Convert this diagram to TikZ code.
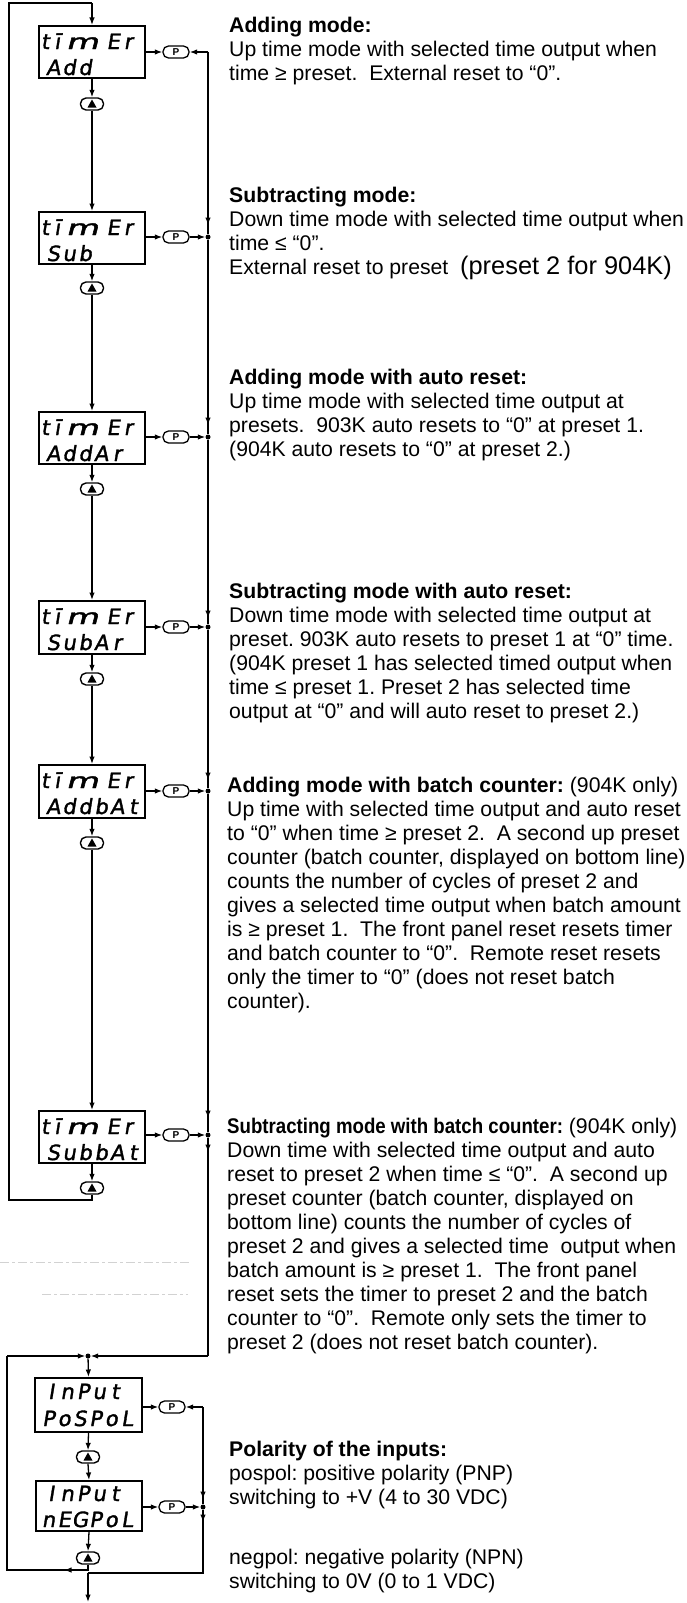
\documentclass[tikz,border=0pt]{standalone}
\usepackage{fontspec}
\usepackage{graphicx}
\setmainfont{Liberation Sans}
\newfontfamily\segfont[FakeSlant=0.16,FakeBold=1.6]{DejaVu Sans}
\usetikzlibrary{arrows.meta,calc}
\frenchspacing
\newcommand\segc[2]{\makebox[#1pt][c]{#2}}
\newcommand\segl[2]{\foreach \ch in {#2}{\makebox[#1pt][c]{\ch}}}
\newcommand\segtimer{\segc{14}{t}\segc{10}{ī}\segc{40}{\scalebox{1.6}[1]{m}}\segc{22}{E}\segc{8}{r}}
\newcommand\blk[1]{\vtop{\baselineskip=24pt\lineskiplimit=-30pt\lineskip=0pt#1}}
\tikzset{
 ln/.style={line width=1.3pt},
 arr/.style={-{Latex[length=7.5pt,width=5.5pt]}},
 box/.style={draw, line width=2pt, minimum width=106pt, minimum height=52pt, inner sep=0pt},
 pn/.style={draw, line width=1.3pt, rounded corners=5.5pt, minimum width=26pt, minimum height=12pt, inner sep=0pt, font=\fontsize{10}{10}\selectfont\bfseries},
 un/.style={draw, line width=1.4pt, fill=white, rounded corners=5.5pt, minimum width=23pt, minimum height=12pt, inner sep=0pt},
 dot/.style={circle, fill, inner sep=0pt, minimum size=5pt},
 seg/.style={anchor=base west, inner sep=0pt, font=\segfont\fontsize{21}{21}\selectfont},
 body/.style={anchor=base west, inner sep=0pt, font=\fontsize{21.2}{24}\selectfont},
 scan/.style={gray!35, line width=0.8pt, dash pattern=on 9pt off 3pt on 3pt off 3pt},
}
\begin{document}
\begin{tikzpicture}[x=1pt,y=-1pt]
\useasboundingbox (0,0) rectangle (687,1603);

% ---------- display boxes ----------
\node[box] (b1) at (92,52) {};
\node[box] (b2) at (92,238) {};
\node[box] (b3) at (92,438) {};
\node[box, minimum height=53pt] (b4) at (92,627.5) {};
\node[box, minimum height=53pt] (b5) at (92,791.5) {};
\node[box] (b6) at (92,1137) {};
\node[box, minimum width=107pt, minimum height=54pt] (b7) at (88.5,1405) {};
\node[box, minimum width=106pt, minimum height=50pt] (b8) at (89,1506) {};

% ---------- display texts ----------
\node[seg] (s1a) at ($(b1.north west)+(0,24)$) {\segtimer};
\node[seg] (s1b) at ($(b1.north west)+(7,50)$) {\segl{16}{A,d,d}};
\node[seg] (s2a) at ($(b2.north west)+(0,24)$) {\segtimer};
\node[seg] (s2b) at ($(b2.north west)+(7,50)$) {\segl{16}{S,u,b}};
\node[seg] (s3a) at ($(b3.north west)+(0,24)$) {\segtimer};
\node[seg] (s3b) at ($(b3.north west)+(7,50)$) {\segl{16}{A,d,d,A,r}};
\node[seg] (s4a) at ($(b4.north west)+(0,24)$) {\segtimer};
\node[seg] (s4b) at ($(b4.north west)+(7,50)$) {\segl{16}{S,u,b,A,r}};
\node[seg] (s5a) at ($(b5.north west)+(0,24)$) {\segtimer};
\node[seg] (s5b) at ($(b5.north west)+(7,50)$) {\segl{16}{A,d,d,b,A,t}};
\node[seg] (s6a) at ($(b6.north west)+(0,24)$) {\segtimer};
\node[seg] (s6b) at ($(b6.north west)+(7,50)$) {\segl{16}{S,u,b,b,A,t}};
\node[seg] (s7a) at ($(b7.north west)+(9,22)$) {\segl{16}{I,n,P,u,t}};
\node[seg] (s7b) at ($(b7.north west)+(6.5,49)$) {\segl{15.7}{P,o,S,P,o,L}};
\node[seg] (s8a) at ($(b8.north west)+(8,21)$) {\segl{16}{I,n,P,u,t}};
\node[seg] (s8b) at ($(b8.north west)+(5.5,47)$) {\segl{15.7}{n,E,G,P,o,L}};

% ---------- P keys ----------
\node[pn] (p1) at (176,52) {P};
\node[pn] (p2) at (176,237) {P};
\node[pn] (p3) at (176,437) {P};
\node[pn] (p4) at (176,627) {P};
\node[pn] (p5) at (176,791) {P};
\node[pn] (p6) at (176,1135) {P};
\node[pn] (p7) at (172,1407) {P};
\node[pn] (p8) at (172,1507) {P};

% ---------- up keys ----------
\node[un] (o1) at (92,104) {};
\node[un] (o2) at (92,288) {};
\node[un] (o3) at (92,489) {};
\node[un] (o4) at (92,679) {};
\node[un] (o5) at (92,843) {};
\node[un] (o6) at (92,1188) {};
\node[un] (o7) at (88,1457) {};
\node[un] (o8) at (88,1558) {};
\foreach \o in {o1,o2,o3,o4,o5,o6,o7,o8}
  \fill ($(\o.center)+(0,-4.5)$) -- ($(\o.center)+(4.5,3.5)$) -- ($(\o.center)+(-4.5,3.5)$) -- cycle;

% ---------- junction dots ----------
\node[dot] (d2) at (208,237) {};
\node[dot] (d3) at (208,437) {};
\node[dot] (d4) at (208,627) {};
\node[dot] (d5) at (208,791) {};
\node[dot] (d6) at (208,1135) {};
\node[dot] (j) at (88,1356) {};
\node[dot] (d8) at (203,1507) {};

\coordinate (r1) at (208,52);
\coordinate (r7) at (208,1356);
\coordinate (lt) at (9,3);
\coordinate (mt) at (92,3);
\coordinate (lb) at (9,1200);
\coordinate (mb) at (92,1200);
\coordinate (ll1) at (7,1356);
\coordinate (ll2) at (7,1570);
\coordinate (m8) at (88,1570);
\coordinate (al) at (64,1570);
\coordinate (c7) at (203,1407);
\coordinate (c9) at (203,1573);
\coordinate (c10) at (88,1573);
\coordinate (cend) at (88,1602);

% ---------- main column ----------
\draw[ln] (o6.south) -- (mb) -- (lb) -- (lt) -- (mt);
\draw[ln,arr] (mt) -- (b1.north);
\draw[ln,arr] (b1.south) -- (o1.north);
\draw[ln,arr] (o1.south) -- (b2.north);
\draw[ln,arr] (b2.south) -- (o2.north);
\draw[ln,arr] (o2.south) -- (b3.north);
\draw[ln,arr] (b3.south) -- (o3.north);
\draw[ln,arr] (o3.south) -- (b4.north);
\draw[ln,arr] (b4.south) -- (o4.north);
\draw[ln,arr] (o4.south) -- (b5.north);
\draw[ln,arr] (b5.south) -- (o5.north);
\draw[ln,arr] (o5.south) -- (b6.north);
\draw[ln,arr] (b6.south) -- (o6.north);

% ---------- P connections ----------
\draw[ln,arr] (b1.east |- p1) -- (p1.west);
\draw[ln,arr] (b2.east |- p2) -- (p2.west);
\draw[ln,arr] (b3.east |- p3) -- (p3.west);
\draw[ln,arr] (b4.east |- p4) -- (p4.west);
\draw[ln,arr] (b5.east |- p5) -- (p5.west);
\draw[ln,arr] (b6.east |- p6) -- (p6.west);
\draw[ln,arr] (b7.east |- p7) -- (p7.west);
\draw[ln,arr] (b8.east |- p8) -- (p8.west);
\draw[ln,arr] (r1) -- (p1.east);
\draw[ln,arr] (p2.east) -- (d2);
\draw[ln,arr] (p3.east) -- (d3);
\draw[ln,arr] (p4.east) -- (d4);
\draw[ln,arr] (p5.east) -- (d5);
\draw[ln,arr] (p6.east) -- (d6);
\draw[ln,arr] (c7) -- (p7.east);
\draw[ln,arr] (p8.east) -- (d8);

% ---------- right return line ----------
\draw[ln] (r1) -- (d2) -- (d3) -- (d4) -- (d5) -- (d6) -- (r7);
\draw[ln,arr] (r1) -- ($(d2)+(0,-12)$);
\draw[ln,arr] (d2) -- ($(d3)+(0,-12)$);
\draw[ln,arr] (d3) -- ($(d4)+(0,-9)$);
\draw[ln,arr] (d4) -- ($(d5)+(0,-11)$);
\draw[ln,arr] (d5) -- ($(d6)+(0,-17)$);
\draw[ln,arr] (d6) -- ($(d6)+(0,17)$);
\draw[ln,arr] (r7) -- (j);

% ---------- input section ----------
\draw[ln] (o8.south) -- (m8) -- (ll2) -- (ll1);
\draw[ln,arr] (m8) -- (al);
\draw[ln,arr] (ll1) -- (j);
\draw[ln,arr] (j) -- (b7.north);
\draw[ln,arr] (b7.south) -- (o7.north);
\draw[ln,arr] (o7.south) -- (b8.north);
\draw[ln,arr] (b8.south) -- (o8.north);
\draw[ln] (c7) -- (d8) -- (c9) -- (c10);
\draw[ln,arr] (c7) -- ($(d8)+(0,-8)$);
\draw[ln,arr] (d8) -- ($(d8)+(0,15)$);
\draw[ln,arr] (c10) -- (cend);

% ---------- faint scan lines ----------
\draw[scan] (0,1262) -- (190,1262);
\draw[scan] (42,1294) -- (188,1294);

% ---------- descriptions ----------
\node[body] (tx1) at (229,33) {\blk{%
\hbox{\textbf{Adding mode:}}%
\hbox{Up time mode with selected time output when}%
\hbox{time ≥ preset.~ External reset to “0”.}}};

\node[body] (tx2) at (229,202) {\blk{%
\hbox{\textbf{Subtracting mode:}}%
\hbox{Down time mode with selected time output when}%
\hbox{time ≤ “0”.}%
\hbox{External reset to preset~ {\fontsize{25.4}{24}\selectfont(preset 2 for 904K)}}}};

\node[body] (tx3) at (229,384) {\blk{%
\hbox{\textbf{Adding mode with auto reset:}}%
\hbox{Up time mode with selected time output at}%
\hbox{presets.~ 903K auto resets to “0” at preset 1.}%
\hbox{(904K auto resets to “0” at preset 2.)}}};

\node[body] (tx4) at (229,598) {\blk{%
\hbox{\textbf{Subtracting mode with auto reset:}}%
\hbox{Down time mode with selected time output at}%
\hbox{preset. 903K auto resets to preset 1 at “0” time.}%
\hbox{(904K preset 1 has selected timed output when}%
\hbox{time ≤ preset 1. Preset 2 has selected time}%
\hbox{output at “0” and will auto reset to preset 2.)}}};

\node[body] (tx5) at (227,792) {\blk{%
\hbox{\textbf{Adding mode with batch counter:} (904K only)}%
\hbox{Up time with selected time output and auto reset}%
\hbox{to “0” when time ≥ preset 2.~ A second up preset}%
\hbox{counter (batch counter, displayed on bottom line)}%
\hbox{counts the number of cycles of preset 2 and}%
\hbox{gives a selected time output when batch amount}%
\hbox{is ≥ preset 1.~ The front panel reset resets timer}%
\hbox{and batch counter to “0”.~ Remote reset resets}%
\hbox{only the timer to “0” (does not reset batch}%
\hbox{counter).}}};

\node[body] (tx6) at (227,1133) {\blk{%
\hbox{\scalebox{0.88}[1]{\textbf{Subtracting mode with batch counter:}} (904K only)}%
\hbox{Down time with selected time output and auto}%
\hbox{reset to preset 2 when time ≤ “0”.~ A second up}%
\hbox{preset counter (batch counter, displayed on}%
\hbox{bottom line) counts the number of cycles of}%
\hbox{preset 2 and gives a selected time~ output when}%
\hbox{batch amount is ≥ preset 1.~ The front panel}%
\hbox{reset sets the timer to preset 2 and the batch}%
\hbox{counter to “0”.~ Remote only sets the timer to}%
\hbox{preset 2 (does not reset batch counter).}}};

\node[body] (tx7) at (229,1456) {\blk{%
\hbox{\textbf{Polarity of the inputs:}}%
\hbox{pospol: positive polarity (PNP)}%
\hbox{switching to +V (4 to 30 VDC)}}};

\node[body] (tx8) at (229,1564) {\blk{%
\hbox{negpol: negative polarity (NPN)}%
\hbox{switching to 0V (0 to 1 VDC)}}};
\end{tikzpicture}
\end{document}
